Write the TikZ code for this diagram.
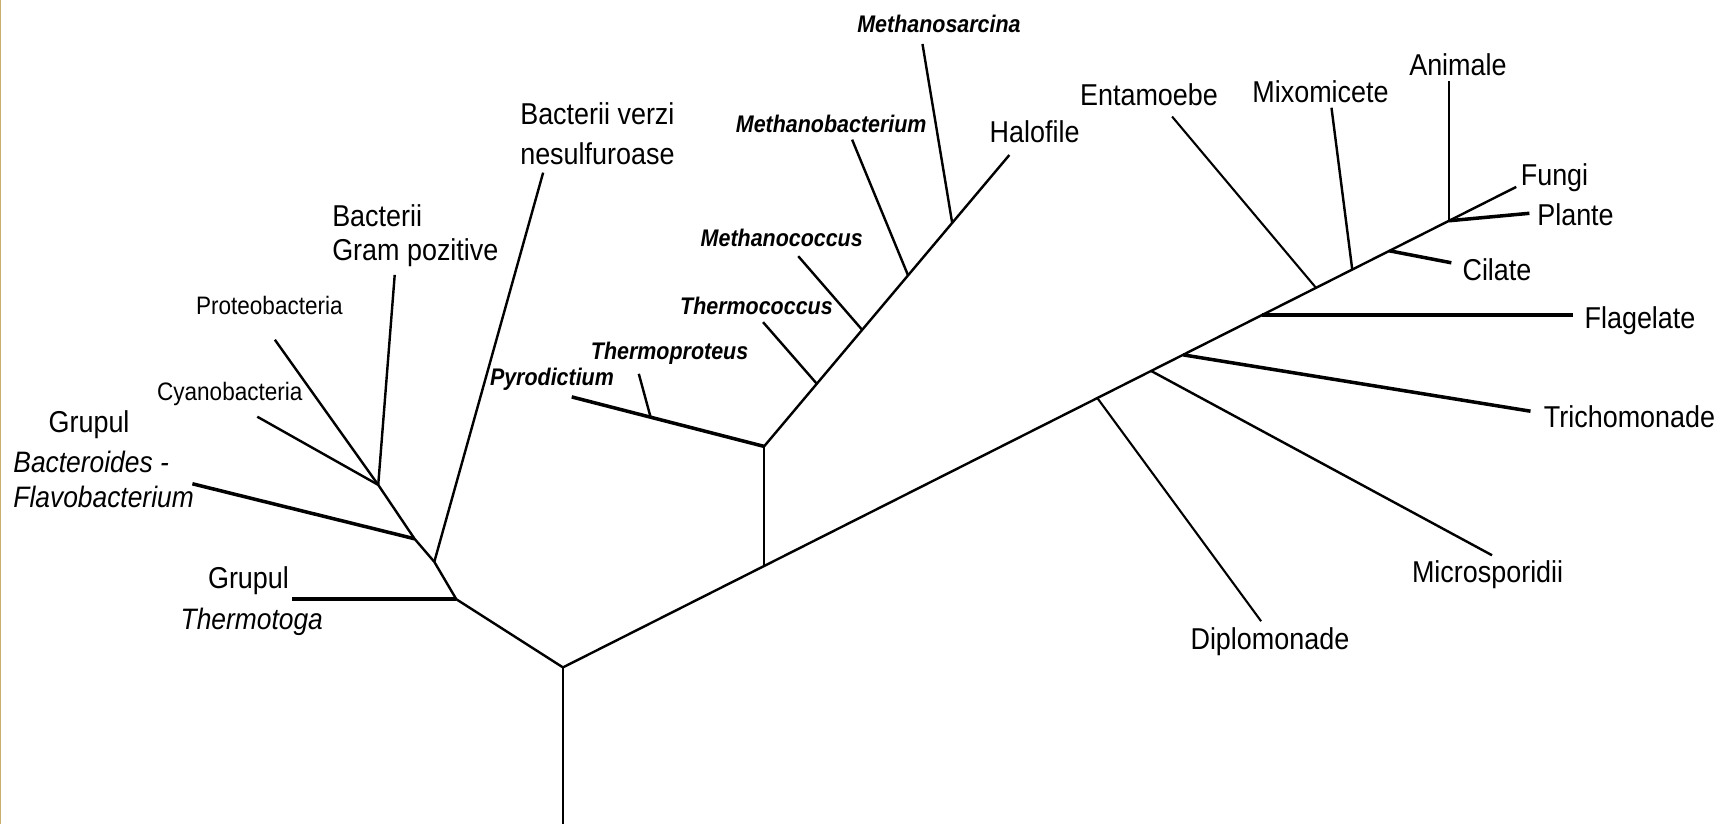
\documentclass[tikz,border=0pt]{standalone}
\usepackage{graphicx}
\usepackage{fontspec}
\setmainfont{Liberation Sans}
\usetikzlibrary{calc}
\definecolor{edgegold}{RGB}{200,176,112}
\newcommand{\vs}[1]{\scalebox{1}[1.12]{#1}}
\tikzset{
  br/.style={line width=2.2pt},
  brthick/.style={line width=3.2pt},
  brthin/.style={line width=1.9pt},
  lbl/.style={inner sep=0pt, font=\fontsize{24.5}{28}\selectfont},
  ilbl/.style={inner sep=0pt, font=\fontsize{24}{28}\selectfont\itshape},
  slbl/.style={inner sep=0pt, font=\fontsize{20.5}{24}\selectfont},
  arch/.style={inner sep=0pt, font=\fontsize{19.5}{23}\selectfont\bfseries\itshape},
}
\begin{document}
\begin{tikzpicture}[x=1pt,y=-1pt]
\useasboundingbox (0,0) rectangle (1568,749);
\fill[white] (0,0) rectangle (1568,749);
\fill[edgegold] (0,0) rectangle (1.3,749);

% ---- root and left (Bacteria) part
\coordinate (bot) at (512,749);
\coordinate (R) at (512,607);
\coordinate (T) at (415,545);
\coordinate (thermoEnd) at (266,545);
\coordinate (V) at (395,511);
\coordinate (verziEnd) at (494,157);
\coordinate (B) at (377,490);
\coordinate (bactEnd) at (175,440);
\coordinate (P) at (344,441);
\coordinate (cyanoEnd) at (234,379);
\coordinate (proteoEnd) at (250,309);
\coordinate (gramEnd) at (359,250);

\draw[br] (bot) -- (R);
\draw[br] (R) -- (T) -- (V) -- (B) -- (P);
\draw[brthick] (T) -- (thermoEnd);
\draw[br] (V) -- (verziEnd);
\draw[brthick] (B) -- (bactEnd);
\draw[br] (P) -- (cyanoEnd);
\draw[br] (P) -- (proteoEnd);
\draw[br] (P) -- (gramEnd);

% ---- main right line (Archaea + Eucarya)
\coordinate (fungiEnd) at (1379,170);
\coordinate (A) at ($(R)!0.211!(fungiEnd)$);
\coordinate (diJ) at ($(R)!0.5606!(fungiEnd)$);
\coordinate (miJ) at ($(R)!0.617!(fungiEnd)$);
\coordinate (trJ) at ($(R)!0.6505!(fungiEnd)$);
\coordinate (flJ) at ($(R)!0.7336!(fungiEnd)$);
\coordinate (enJ) at ($(R)!0.790!(fungiEnd)$);
\coordinate (mxJ) at ($(R)!0.828!(fungiEnd)$);
\coordinate (ciJ) at ($(R)!0.867!(fungiEnd)$);
\coordinate (crJ) at ($(R)!0.9296!(fungiEnd)$);
\draw[br] (R) -- (fungiEnd);

% ---- Archaea
\coordinate (A2) at (A |- 0,406);
\coordinate (pyroEnd) at (520,361);
\coordinate (tpJ) at ($(A2)!0.59!(pyroEnd)$);
\coordinate (tpEnd) at (581,340);
\coordinate (haloEnd) at (918,141);
\coordinate (tcJ) at ($(A2)!0.215!(haloEnd)$);
\coordinate (mcJ) at ($(A2)!0.40!(haloEnd)$);
\coordinate (mbJ) at ($(A2)!0.587!(haloEnd)$);
\coordinate (msJ) at ($(A2)!0.767!(haloEnd)$);
\coordinate (tcEnd) at (694,293);
\coordinate (mcEnd) at (726,233);
\coordinate (mbEnd) at (775,127);
\coordinate (msEnd) at (839,40);

\draw[br] (A) -- (A2);
\draw[brthick] (A2) -- (pyroEnd);
\draw[br] (tpJ) -- (tpEnd);
\draw[br] (A2) -- (haloEnd);
\draw[br] (tcJ) -- (tcEnd);
\draw[br] (mcJ) -- (mcEnd);
\draw[br] (mbJ) -- (mbEnd);
\draw[br] (msJ) -- (msEnd);

% ---- Eucarya
\coordinate (diEnd) at (1147,565);
\coordinate (miEnd) at (1357,505);
\coordinate (trEnd) at (1392,374);
\coordinate (flEnd) at (1431,0);
\coordinate (enEnd) at (1066,106);
\coordinate (mxEnd) at (1211,98);
\coordinate (ciEnd) at (1320,239);
\coordinate (anEnd) at (crJ |- 0,74);
\coordinate (plEnd) at (1391,194);

\draw[brthin] (diJ) -- (diEnd);
\draw[br] (miJ) -- (miEnd);
\draw[brthick] (trJ) -- (trEnd);
\draw[brthick] (flJ) -- (flEnd |- flJ);
\draw[brthin] (enJ) -- (enEnd);
\draw[br] (mxJ) -- (mxEnd);
\draw[brthick] (ciJ) -- (ciEnd);
\draw[br] (crJ) -- (anEnd);
\draw[brthick] (crJ) -- (plEnd);

% ---- labels, Bacteria
\node[slbl] (lProteo) at (245,278) {\vs{Proteobacteria}};
\node[slbl] (lCyano) at (209,358) {\vs{Cyanobacteria}};
\node[lbl] (lGrupul1) at (81,386) {\vs{Grupul}};
\node[ilbl, anchor=west] (lBacteroides) at (12,420) {\vs{Bacteroides -}};
\node[ilbl, anchor=west] (lFlavo) at (12,452) {\vs{Flavobacterium}};
\node[lbl] (lGrupul2) at (226,528) {\vs{Grupul}};
\node[ilbl] (lThermotoga) at (229,566) {\vs{Thermotoga}};
\node[lbl, anchor=west] (lBacterii) at (302,196) {\vs{Bacterii}};
\node[lbl, anchor=west] (lGram) at (302,230) {\vs{Gram pozitive}};
\node[lbl, anchor=west] (lVerzi) at (473,103) {\vs{Bacterii verzi}};
\node[lbl, anchor=west] (lNesulf) at (473,140) {\vs{nesulfuroase}};

% ---- labels, Archaea
\node[arch] (lMsarc) at (854,22) {\vs{Methanosarcina}};
\node[arch] (lMbact) at (756,113) {\vs{Methanobacterium}};
\node[lbl] (lHalo) at (941,120) {\vs{Halofile}};
\node[arch] (lMcocc) at (711,216) {\vs{Methanococcus}};
\node[arch] (lTcocc) at (688,278) {\vs{Thermococcus}};
\node[arch] (lTprot) at (609,321) {\vs{Thermoproteus}};
\node[arch] (lPyro) at (502,345) {\vs{Pyrodictium}};

% ---- labels, Eucarya
\node[lbl] (lEntam) at (1045,86) {\vs{Entamoebe}};
\node[lbl] (lMixo) at (1201,83) {\vs{Mixomicete}};
\node[lbl] (lAnim) at (1326,59) {\vs{Animale}};
\node[lbl, anchor=west] (lFungi) at (1383,162) {\vs{Fungi}};
\node[lbl, anchor=west] (lPlante) at (1398,195) {\vs{Plante}};
\node[lbl, anchor=west] (lCilate) at (1330,245) {\vs{Cilate}};
\node[lbl, anchor=west] (lFlag) at (1441,292) {\vs{Flagelate}};
\node[lbl, anchor=west] (lTricho) at (1404,379) {\vs{Trichomonade}};
\node[lbl] (lMicro) at (1353,523) {\vs{Microsporidii}};
\node[lbl] (lDiplo) at (1155,584) {\vs{Diplomonade}};
\end{tikzpicture}
\end{document}
